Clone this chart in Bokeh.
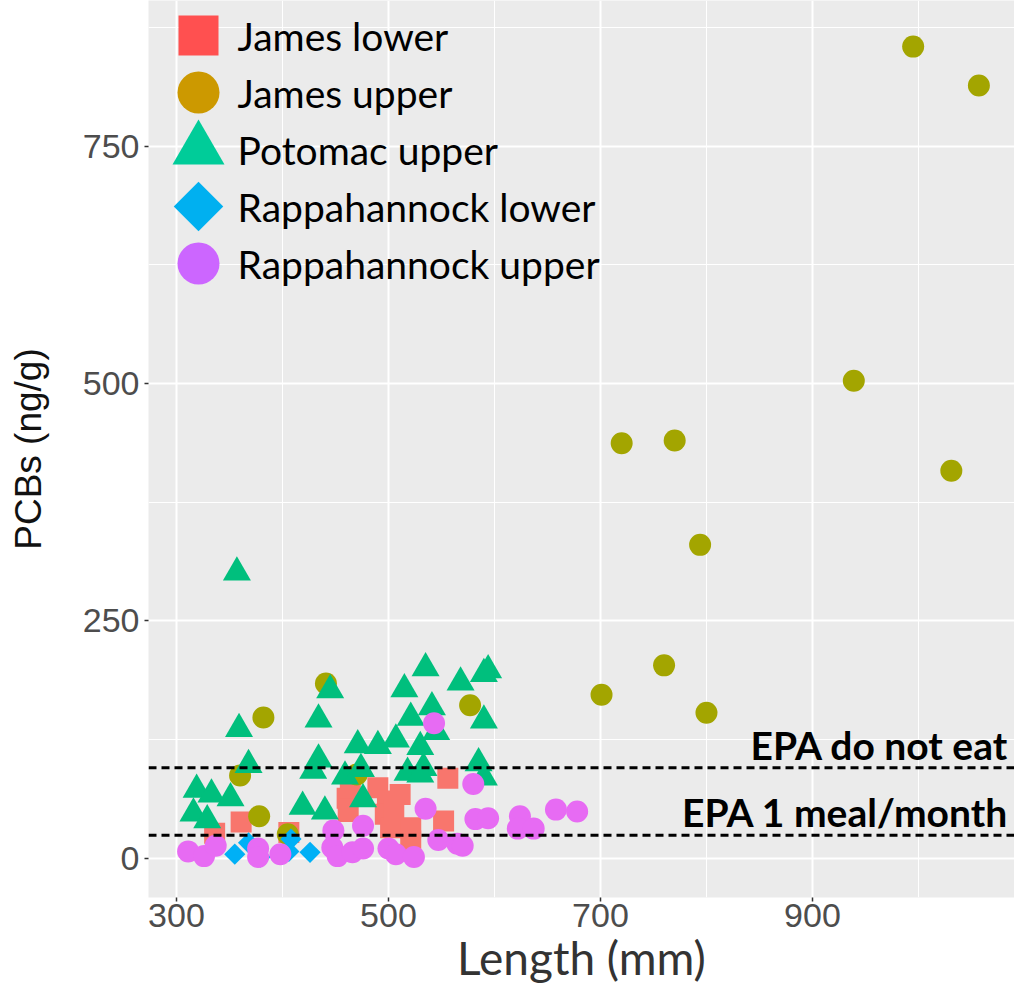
import math
from bokeh.plotting import figure
from bokeh.models import Range1d, FixedTicker, Span, Label
from bokeh.core.properties import value
from bokeh.embed import file_html
from bokeh.resources import INLINE

# ---------------- data ----------------
groups = ["James lower", "James upper", "Potomac upper",
          "Rappahannock lower", "Rappahannock upper"]

james_lower_len = [336, 361, 406, 461, 464, 490, 499, 511, 497, 502, 521, 521, 556, 552, 462, 505]
james_lower_pcb = [26, 38, 27, 63, 74, 74, 60, 67, 46, 32, 32, 18, 84, 39, 49, 51]

james_upper_len = [441, 382, 360, 378, 405, 470, 577, 701, 720, 760, 770, 794, 800, 939, 995, 1031, 1057]
james_upper_pcb = [184, 148, 87, 44, 25, 88, 161, 172, 437, 203, 440, 330, 153, 503, 855, 408, 814]

potomac_upper_len = [357, 359, 368, 319, 333, 351, 316, 329, 419, 440, 434, 434, 429, 445, 471, 490,
                     507, 521, 459, 474, 476, 530, 533, 535, 515, 568, 594, 590, 541, 590, 585, 590,
                     518, 545, 530]
potomac_upper_pcb = [301, 136, 98, 72, 67, 63, 47, 40, 54, 49, 146, 104, 92, 177, 119, 118,
                     125, 148, 86, 94, 62, 117, 95, 200, 178, 185, 198, 194, 159, 145, 100, 85,
                     90, 133, 88]

rapp_lower_len = [355, 368, 379, 408, 406, 426]
rapp_lower_pcb = [4, 16, 1, 20, 7, 6]

rapp_upper_len = [311, 326, 337, 377, 377, 398, 448, 476, 447, 452, 466, 476, 500, 507, 524, 535,
                  543, 547, 565, 570, 580, 582, 594, 624, 622, 637, 658, 678]
rapp_upper_pcb = [7, 2, 13, 10, 1, 4, 29, 34, 11, 2, 6, 10, 10, 4, 1, 52,
                  142, 19, 15, 13, 78, 41, 42, 44, 31, 31, 51, 49]

epa_levels = [95, 24]
epa_labels = ["EPA do not eat", "EPA 1 meal/month"]

x_ticks = [300, 500, 700, 900]
x_minor = [400, 600, 800, 1000]
y_ticks = [0, 250, 500, 750]
y_minor = [125, 375, 625, 875]

x_title = "Length (mm)"
y_title = "PCBs (ng/g)"

point_colors = ["#F8766D", "#A3A500", "#00BF7D", "#00B0F6", "#E76BF3"]
legend_colors = ["#FF5050", "#CC9900", "#00CC99", "#00B0F0", "#CC66FF"]

# ---------------- figure ----------------
FRAME_W, FRAME_H = 866, 897
p = figure(width=1014, height=988, output_backend="svg", toolbar_location=None,
           x_range=Range1d(273.6, 1090.6), y_range=Range1d(-41.6, 903.6),
           min_border_left=148, min_border_right=0, min_border_top=0, min_border_bottom=91)
p.background_fill_color = "#EBEBEB"
p.border_fill_color = "white"
p.outline_line_color = None

p.xaxis.ticker = FixedTicker(ticks=x_ticks, minor_ticks=x_minor)
p.yaxis.ticker = FixedTicker(ticks=y_ticks, minor_ticks=y_minor)
p.grid.grid_line_color = "white"
p.grid.grid_line_width = 2
p.grid.minor_grid_line_color = "white"
p.grid.minor_grid_line_width = 1

p.axis.axis_line_color = None
p.axis.minor_tick_line_color = None
p.axis.major_tick_line_color = "#333333"
p.axis.major_tick_line_width = 1.5
p.axis.major_tick_in = 0
p.axis.major_tick_out = 4
p.axis.major_label_text_font = "Liberation Sans"
p.axis.major_label_text_font_size = "34px"
p.axis.major_label_text_color = "#4D4D4D"
p.yaxis.major_label_standoff = 5
p.xaxis.major_label_standoff = 2

p.xaxis.axis_label = x_title
p.xaxis.axis_label_text_font = "Lato"
p.xaxis.axis_label_text_font_size = "46px"
p.xaxis.axis_label_text_font_style = "normal"
p.xaxis.axis_label_text_color = "#333333"
p.xaxis.axis_label_standoff = 0

p.yaxis.axis_label = y_title
p.yaxis.axis_label_text_font = "Liberation Sans"
p.yaxis.axis_label_text_font_size = "37px"
p.yaxis.axis_label_text_font_style = "normal"
p.yaxis.axis_label_text_color = "#111111"
p.yaxis.axis_label_standoff = 31

# ---------------- threshold lines ----------------
for lev, lab in zip(epa_levels, epa_labels):
    p.add_layout(Span(location=lev, dimension="width", line_color="black",
                      line_width=3, line_dash="8 5"))
    p.add_layout(Label(x=p.x_range.end, y=lev, x_offset=-6, y_offset=0, text=lab,
                       text_align="right", text_baseline="bottom",
                       text_font="Lato", text_font_style="bold",
                       text_font_size="39px", text_color="black"))

# ---------------- points ----------------
series = [
    (james_lower_len, james_lower_pcb, "square", 21, 0.0),
    (james_upper_len, james_upper_pcb, "circle", 22, 0.0),
    (potomac_upper_len, potomac_upper_pcb, "triangle", 28, 0.0),
    (rapp_lower_len, rapp_lower_pcb, "square", 15, math.pi / 4),
    (rapp_upper_len, rapp_upper_pcb, "circle", 22, 0.0),
]
for (xs, ys, mk, sz, ang), col in zip(series, point_colors):
    p.scatter(x=xs, y=ys, marker=mk, size=sz, angle=ang,
              fill_color=col, line_color=None)

# ---------------- legend (manual, in pixel-like extra ranges of the frame) ----------------
p.extra_x_ranges = {"legend": Range1d(0, FRAME_W)}
p.extra_y_ranges = {"legend": Range1d(FRAME_H, 0)}   # 0 = top of the panel
LEG_X, LEG_Y0, LEG_PITCH, LEG_TEXT_DX = 50, 35, 57, 39
legend_markers = ["square", "circle", "triangle", "square", "circle"]
legend_sizes = [40, 42, 52, 35, 42]
legend_angles = [0.0, 0.0, 0.0, math.pi / 4, 0.0]
leg_y = [LEG_Y0 + LEG_PITCH * i for i in range(len(groups))]
leg_x = [LEG_X] * len(groups)
p.scatter(x=leg_x, y=leg_y, marker=legend_markers, size=legend_sizes, angle=legend_angles,
          fill_color=legend_colors, line_color=None,
          x_range_name="legend", y_range_name="legend")
p.text(x=[LEG_X + LEG_TEXT_DX] * len(groups), y=leg_y, text=groups,
       x_range_name="legend", y_range_name="legend",
       text_font=value("Lato"), text_font_size="39px", text_color="black",
       text_baseline="middle", text_align="left")

open("out.html", "w").write(file_html(p, INLINE))
